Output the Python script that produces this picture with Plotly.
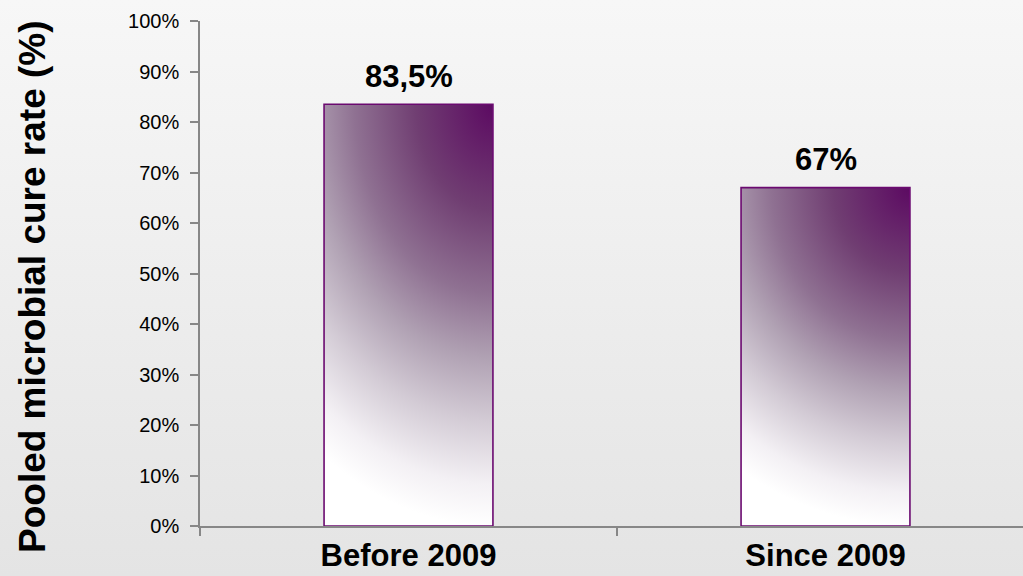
import base64
import plotly.graph_objects as go

# Pooled microbial cure rate by period
categories = ["Before 2009", "Since 2009"]
cure_rate = [83.5, 67]
y_ticks = [0, 10, 20, 30, 40, 50, 60, 70, 80, 90, 100]
y_tick_text = [f"{v}%" for v in y_ticks]

W, H = 1023, 576
M_L, M_R, M_T, M_B = 200, 0, 21, 50
PLOT_W = W - M_L - M_R
PLOT_H = H - M_T - M_B
BAR_W = 0.405
X_RANGE = [-0.5, -0.5 + PLOT_W / 417.0]

FONT = "Liberation Sans, Arial, sans-serif"
AXIS_GREY = "#878787"
BAR_EDGE = "#6b0a70"


def svg_uri(svg):
    return "data:image/svg+xml;base64," + base64.b64encode(svg.encode()).decode()


# bar fill: dark purple in the top-right corner, easing through mauve-grey to white
BAR_SVG = svg_uri(
    '<svg xmlns="http://www.w3.org/2000/svg" width="100" height="100" '
    'viewBox="0 0 100 100" preserveAspectRatio="none">'
    '<defs>'
    '<radialGradient id="r" gradientUnits="objectBoundingBox" cx="1" cy="0" r="1" '
    'fx="1" fy="0" gradientTransform="matrix(1.82 0 0 1.0 -0.82 0)">'
    '<stop offset="0" stop-color="#5c0a62"/>'
    '<stop offset="0.25" stop-color="#703e72"/>'
    '<stop offset="0.45" stop-color="#8f7192"/>'
    '<stop offset="0.6" stop-color="#b0a1b3"/>'
    '<stop offset="0.75" stop-color="#d3cbd5"/>'
    '<stop offset="0.9" stop-color="#f3f0f4"/>'
    '<stop offset="1" stop-color="#ffffff"/>'
    '</radialGradient>'
    '</defs>'
    '<rect x="0" y="0" width="100" height="100" fill="url(#r)"/>'
    '</svg>'
)

# page background: light grey, slightly darker toward the bottom
BG_SVG = svg_uri(
    '<svg xmlns="http://www.w3.org/2000/svg" width="100" height="100" '
    'viewBox="0 0 100 100" preserveAspectRatio="none">'
    '<defs><linearGradient id="g" x1="0" y1="0" x2="0" y2="1">'
    '<stop offset="0" stop-color="#f7f7f7"/>'
    '<stop offset="1" stop-color="#e4e4e4"/>'
    '</linearGradient></defs>'
    '<rect x="0" y="0" width="100" height="100" fill="url(#g)"/>'
    '</svg>'
)

fig = go.Figure()

fig.add_trace(go.Bar(
    x=categories,
    y=cure_rate,
    width=BAR_W,
    marker=dict(color="rgba(0,0,0,0)", line=dict(color=BAR_EDGE, width=1.6)),
    hovertemplate="%{x}: %{y}%<extra></extra>",
))

images = [dict(
    source=BG_SVG, xref="paper", yref="paper",
    x=-M_L / PLOT_W, y=1 + M_T / PLOT_H,
    sizex=W / PLOT_W, sizey=H / PLOT_H,
    xanchor="left", yanchor="top", sizing="stretch", layer="below",
)]
for i, v in enumerate(cure_rate):
    images.append(dict(
        source=BAR_SVG, xref="x", yref="y",
        x=i - BAR_W / 2, y=v, sizex=BAR_W, sizey=v,
        xanchor="left", yanchor="top", sizing="stretch", layer="below",
    ))

annotations = []
for i, v in enumerate(cure_rate):
    annotations.append(dict(
        x=i, y=v, xref="x", yref="y",
        text=f"<b>{v:g}%</b>".replace(".", ","),
        showarrow=False, yanchor="middle", yshift=28,
        font=dict(family=FONT, size=31, color="#000000"),
    ))
annotations.append(dict(
    x=(32 - M_L) / PLOT_W, y=(H - M_B - 287) / PLOT_H,
    xref="paper", yref="paper",
    text="<b>Pooled microbial cure rate (%)</b>",
    textangle=-90, showarrow=False, xanchor="center", yanchor="middle",
    font=dict(family=FONT, size=37, color="#000000"),
))

fig.update_layout(
    width=W, height=H,
    margin=dict(l=M_L, r=M_R, t=M_T, b=M_B, pad=0),
    paper_bgcolor="#eeeeee",
    plot_bgcolor="rgba(0,0,0,0)",
    showlegend=False,
    images=images,
    annotations=annotations,
    font=dict(family=FONT, color="#000000"),
)

fig.update_xaxes(
    type="category",
    range=X_RANGE,
    tickson="boundaries",
    ticks="outside", ticklen=8, tickwidth=1.5, tickcolor=AXIS_GREY,
    showline=True, linecolor=AXIS_GREY, linewidth=1.5,
    showgrid=False, zeroline=False,
    tickfont=dict(family=FONT, size=31, color="#000000", weight="bold"),
    ticklabelstandoff=1,
    automargin=False,
)
fig.update_yaxes(
    range=[0, 100],
    tickmode="array", tickvals=y_ticks, ticktext=y_tick_text,
    ticks="outside", ticklen=8, tickwidth=1.5, tickcolor=AXIS_GREY,
    showline=True, linecolor=AXIS_GREY, linewidth=1.5,
    showgrid=False, zeroline=False,
    tickfont=dict(family=FONT, size=20, color="#000000"),
    ticklabelstandoff=7,
    automargin=False,
)

fig.write_html("out.html")
